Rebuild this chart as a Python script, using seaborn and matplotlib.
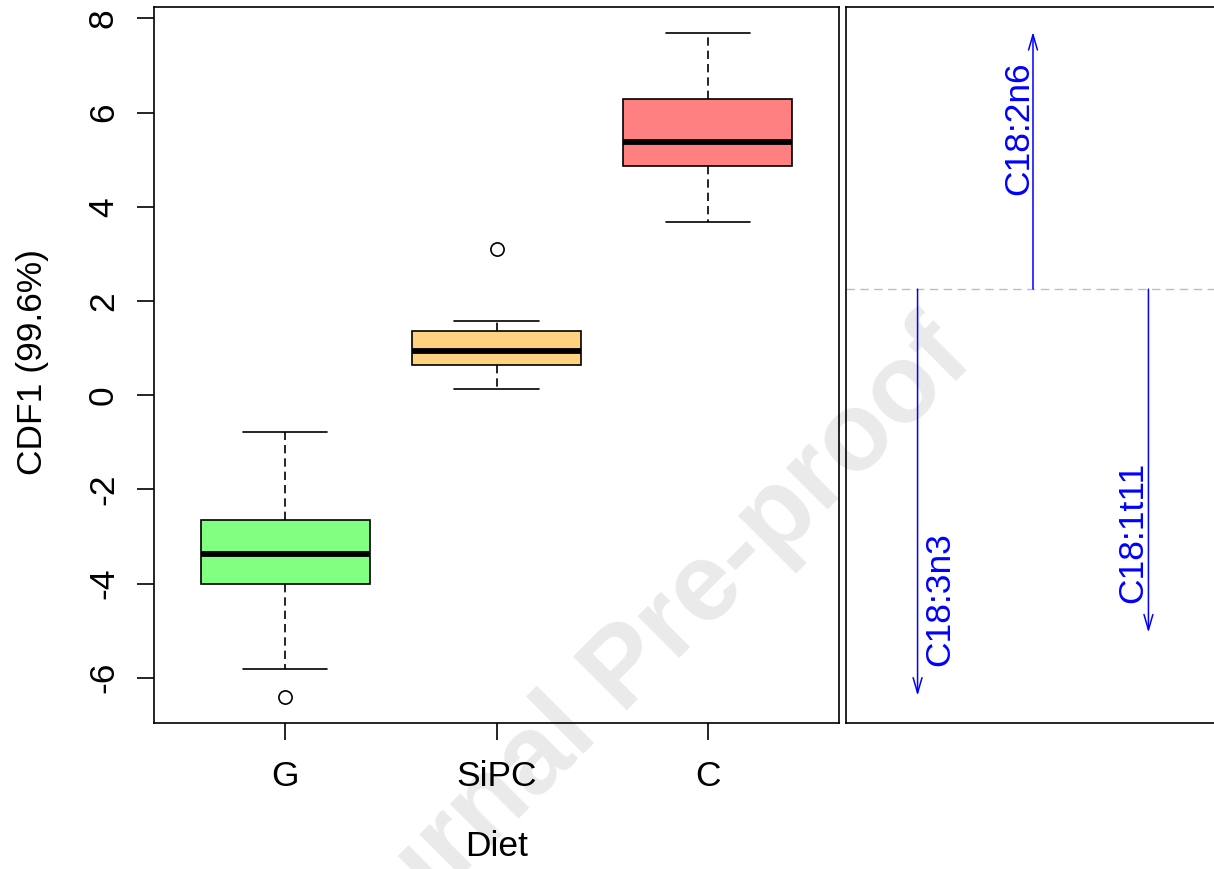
import numpy as np
import pandas as pd
import matplotlib
matplotlib.use("Agg")
import matplotlib.pyplot as plt
import seaborn as sns

# ---------------- data ----------------
diets = ["G", "SiPC", "C"]
g_values = [-6.40, -5.81, -4.01, -3.70, -3.37, -3.00, -2.64, -1.70, -0.79]
sipc_values = [0.13, 0.45, 0.65, 0.80, 0.93, 1.10, 1.36, 1.57, 3.10]
c_values = [3.67, 4.50, 4.87, 5.10, 5.37, 5.80, 6.29, 7.00, 7.69]
box_colors = ["#80FF80", "#FFD280", "#FF8080"]
y_ticks = [-6, -4, -2, 0, 2, 4, 6, 8]
y_label = "CDF1 (99.6%)"
x_label = "Diet"
loading_names = ["C18:3n3", "C18:2n6", "C18:1t11"]
loading_ends = [-6.38, 7.71, -5.04]
loading_origin = 2.25
watermark = "Journal Pre-proof"

df = pd.DataFrame({
    "Diet": ["G"] * len(g_values) + ["SiPC"] * len(sipc_values) + ["C"] * len(c_values),
    "CDF1": g_values + sipc_values + c_values,
})

# ---------------- style ----------------
sns.set_style("ticks")
plt.rcParams["font.family"] = ["Liberation Sans", "DejaVu Sans"]
for k in ("text.color", "axes.labelcolor", "xtick.color", "ytick.color",
          "axes.edgecolor", "xtick.labelcolor", "ytick.labelcolor"):
    plt.rcParams[k] = "black"
FS = 25.5
W, H = 1214, 869
fig = plt.figure(figsize=(W / 100, H / 100), dpi=100)

def px_rect(x0, y0, x1, y1):
    return [x0 / W, 1 - y1 / H, (x1 - x0) / W, (y1 - y0) / H]

ax = fig.add_axes(px_rect(154, 7, 839, 723))
ax2 = fig.add_axes(px_rect(846, 7, 1220, 723))
for a in (ax, ax2):
    a.set_facecolor("none")

# watermark
fig.text(646 / W, 1 - 691 / H, watermark, rotation=45, rotation_mode="anchor",
         ha="center", va="baseline", fontsize=80, fontweight="bold",
         color="#EAEAEA", zorder=-5)

# ---------------- boxplot ----------------
sns.boxplot(
    data=df, x="Diet", y="CDF1", hue="Diet", order=diets, hue_order=diets,
    palette=box_colors, saturation=1, legend=False, dodge=False, width=0.8,
    linecolor="black", linewidth=1.2,
    whiskerprops=dict(linestyle=(0, (5, 3))),
    medianprops=dict(linewidth=4.2, color="black"),
    flierprops=dict(marker="o", markersize=9.5, markerfacecolor="none",
                    markeredgecolor="black", markeredgewidth=1.2),
    ax=ax,
)
ax.set_xlim(-0.62, 2.62)
ax.set_ylim(-6.96, 8.24)
ax.set_yticks(y_ticks)
ax.set_yticklabels([str(t) for t in y_ticks])
ax.set_xlabel("")
ax.set_ylabel("")
for s in ax.spines.values():
    s.set_visible(True)
    s.set_linewidth(1.2)
    s.set_color("black")
ax.tick_params(axis="both", length=12.5, width=1.2, color="black",
               labelcolor="black", labelsize=FS)
ax.tick_params(axis="x", pad=14)
ax.tick_params(axis="y", pad=12)
for lbl in ax.get_yticklabels():
    lbl.set_rotation(90)
    lbl.set_va("center")

fig.text(42 / W, 1 - 362 / H, y_label, rotation=90, rotation_mode="anchor",
         ha="center", va="baseline", fontsize=FS, color="black")
fig.text(497 / W, 1 - 856 / H, x_label, ha="center", va="baseline",
         fontsize=FS, color="black")

# ---------------- loadings panel ----------------
ax2.set_xlim(0.38, 3.62)
ax2.set_ylim(-6.96, 8.24)
ax2.axhline(loading_origin, color="#BEBEBE", lw=1.0, ls=(0, (6, 4)), zorder=1)
label_style = {
    "C18:3n3": dict(dx=22.5, ha="left"),
    "C18:2n6": dict(dx=-3.4, ha="right"),
    "C18:1t11": dict(dx=-4.3, ha="left"),
}
for i, (name, end) in enumerate(zip(loading_names, loading_ends)):
    xpos = i + 1
    ax2.annotate(
        "", xy=(xpos, end), xytext=(xpos, loading_origin),
        arrowprops=dict(arrowstyle="->,head_length=0.55,head_width=0.16",
                        color="#0000FF", lw=1.1, shrinkA=0, shrinkB=0,
                        mutation_scale=20),
        zorder=3,
    )
    st = label_style[name]
    dy = -21.6 if end > loading_origin else 21.6
    ax2.annotate(
        name, xy=(xpos, end), xytext=(st["dx"], dy), textcoords="offset points",
        rotation=90, rotation_mode="anchor", ha=st["ha"], va="baseline",
        fontsize=FS, color="#0000FF",
    )
ax2.set_xticks([])
ax2.set_yticks([])
for side in ("left", "top", "bottom"):
    ax2.spines[side].set_visible(True)
    ax2.spines[side].set_linewidth(1.2)
    ax2.spines[side].set_color("black")
ax2.spines["right"].set_visible(False)

fig.savefig("out.png", dpi=100)
